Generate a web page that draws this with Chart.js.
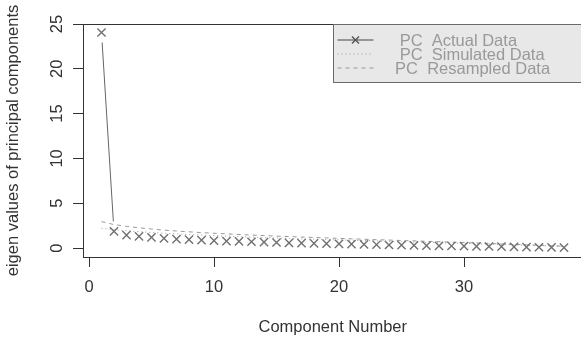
<!DOCTYPE html>
<html>
<head>
<meta charset="utf-8">
<script src="https://cdn.jsdelivr.net/npm/chart.js@4.4.0/dist/chart.umd.min.js"></script>
<style>
  html, body { margin: 0; padding: 0; background: #fff; overflow: hidden; }
  #wrap { width: 600px; height: 338px; }
</style>
</head>
<body>
<div id="wrap"><canvas id="scree"></canvas></div>
<script>
// component numbers on the x axis
const components = [1, 2, 3, 4, 5, 6, 7, 8, 9, 10, 11, 12, 13, 14, 15, 16, 17, 18, 19,
  20, 21, 22, 23, 24, 25, 26, 27, 28, 29, 30, 31, 32, 33, 34, 35, 36, 37, 38]

// eigen values
const actualData = [24.05, 1.85, 1.45, 1.3, 1.18, 1.08, 1.0, 0.94, 0.88, 0.83,
  0.78, 0.74, 0.7, 0.66, 0.62, 0.58, 0.55, 0.52, 0.49, 0.46,
  0.43, 0.4, 0.37, 0.34, 0.32, 0.29, 0.27, 0.25, 0.23, 0.21,
  0.19, 0.17, 0.15, 0.13, 0.11, 0.09, 0.07, 0.05]
const simulatedData = [2.2, 2.05, 1.93, 1.83, 1.74, 1.66, 1.58, 1.51, 1.45, 1.39,
  1.33, 1.27, 1.22, 1.17, 1.12, 1.07, 1.03, 0.99, 0.95, 0.91,
  0.87, 0.83, 0.79, 0.75, 0.71, 0.67, 0.63, 0.59, 0.55, 0.51,
  0.47, 0.43, 0.39, 0.35, 0.31, 0.27, 0.23, 0.18]
const resampledData = [2.95, 2.62, 2.42, 2.26, 2.12, 2.0, 1.9, 1.81, 1.72, 1.65,
  1.58, 1.51, 1.45, 1.39, 1.33, 1.28, 1.23, 1.18, 1.13, 1.08,
  1.03, 0.98, 0.93, 0.89, 0.84, 0.8, 0.75, 0.71, 0.66, 0.61,
  0.56, 0.51, 0.46, 0.41, 0.36, 0.31, 0.26, 0.2]

const xTicks = [0, 10, 20, 30]
const yTicks = [0, 5, 10, 15, 20, 25]
const legendLabels = ['  PC  Actual Data ', '  PC  Simulated Data', ' PC  Resampled Data']

const FONT = 'Liberation Sans, Arial, Helvetica, sans-serif'
const toPoints = (vals) => vals.map((v, i) => ({ x: components[i], y: v }))

// R draws type="b": the line stops short of each point
const GAP = 10
const gappedDash = (ctx) => {
  if (ctx.p0DataIndex !== 0) return undefined
  const len = Math.hypot(ctx.p1.x - ctx.p0.x, ctx.p1.y - ctx.p0.y)
  return [0, GAP, Math.max(len - 2 * GAP, 0), 1000]
}

// box around the plot region
const frame = {
  id: 'frame',
  afterDraw(chart) {
    const { ctx, chartArea: a } = chart
    ctx.save()
    ctx.strokeStyle = '#333'
    ctx.lineWidth = 1
    ctx.strokeRect(Math.round(a.left) + 0.5, Math.round(a.top) + 0.5,
      Math.round(a.right - a.left), Math.round(a.bottom - a.top))
    ctx.restore()
  }
}

// R style legend in the top right corner
const rLegend = {
  id: 'rLegend',
  afterDraw(chart) {
    const { ctx, chartArea: a } = chart
    const w = 250, h = 58
    const left = Math.round(a.right - w) + 0.5
    const top = Math.round(a.top) + 0.5
    ctx.save()
    ctx.fillStyle = '#e8e8e8'
    ctx.fillRect(left, top, w, h)
    ctx.strokeStyle = '#6a6a6a'
    ctx.lineWidth = 1
    ctx.strokeRect(left, top, w, h)
    chart.data.datasets.forEach((ds, i) => {
      const y = top + 15.5 + i * 14
      ctx.strokeStyle = ds.legendColor
      ctx.setLineDash(ds.legendDash)
      ctx.beginPath()
      ctx.moveTo(left + 4, y)
      ctx.lineTo(left + 40, y)
      ctx.stroke()
      ctx.setLineDash([])
      if (ds.pointRadius > 0) {
        ctx.strokeStyle = '#555'
        ctx.lineWidth = ds.pointBorderWidth
        Chart.helpers.drawPoint(ctx, { pointStyle: 'crossRot', radius: 5, rotation: 0, borderWidth: ds.pointBorderWidth }, left + 22, y)
        ctx.lineWidth = 1
      }
      ctx.fillStyle = '#999'
      ctx.font = '16.5px ' + FONT
      ctx.textAlign = 'left'
      ctx.textBaseline = 'middle'
      ctx.fillText(legendLabels[i], left + 57, y + 1)
    })
    ctx.restore()
  }
}

new Chart(document.getElementById('scree'), {
  type: 'line',
  data: {
    datasets: [{
      data: toPoints(actualData),
      borderColor: '#666',
      borderWidth: 1,
      pointStyle: 'crossRot',
      pointRadius: 5.8,
      pointBorderColor: '#707070',
      pointBorderWidth: 1.4,
      legendColor: '#444',
      legendDash: [],
      segment: {
        borderColor: (ctx) => ctx.p0DataIndex === 0 ? '#666' : 'rgba(0,0,0,0)',
        borderDash: gappedDash
      }
    }, {
      data: toPoints(simulatedData),
      borderColor: '#9a9a9a',
      borderWidth: 1,
      borderDash: [1, 3],
      pointRadius: 0,
      legendColor: '#9a9a9a',
      legendDash: [1, 3]
    }, {
      data: toPoints(resampledData),
      borderColor: '#999',
      borderWidth: 1,
      borderDash: [4, 4],
      pointRadius: 0,
      legendColor: '#999',
      legendDash: [4, 4]
    }]
  },
  options: {
    responsive: true,
    maintainAspectRatio: false,
    animation: false,
    layout: { padding: { top: 24, right: 17.5, left: 0, bottom: 0 } },
    plugins: {
      legend: { display: false },
      tooltip: { enabled: false }
    },
    scales: {
      x: {
        type: 'linear',
        min: -0.48,
        max: 39.48,
        afterBuildTicks: (scale) => { scale.ticks = xTicks.map(v => ({ value: v })) },
        afterFit: (scale) => { scale.height = 81 },
        grid: { drawOnChartArea: false, drawTicks: true, tickLength: 10, tickColor: '#333' },
        border: { display: false },
        ticks: { autoSkip: false, maxRotation: 0, padding: 11, color: '#333', font: { family: FONT, size: 16.5 } },
        title: { display: true, text: 'Component Number', color: '#333', padding: { top: 0, bottom: 1 }, font: { family: FONT, size: 16.5 } }
      },
      y: {
        min: -1,
        max: 25,
        afterBuildTicks: (scale) => { scale.ticks = yTicks.map(v => ({ value: v })) },
        afterFit: (scale) => { scale.width = 83 },
        grid: { drawOnChartArea: false, drawTicks: true, tickLength: 10, tickColor: '#333' },
        border: { display: false },
        ticks: { autoSkip: false, minRotation: 90, maxRotation: 90, crossAlign: 'center', padding: 6, color: '#333', font: { family: FONT, size: 16.5 } },
        title: { display: true, text: 'eigen values of principal components', color: '#333', padding: { top: 4, bottom: 0 }, font: { family: FONT, size: 16.5 } }
      }
    }
  },
  plugins: [frame, rLegend]
})
</script>
</body>
</html>
